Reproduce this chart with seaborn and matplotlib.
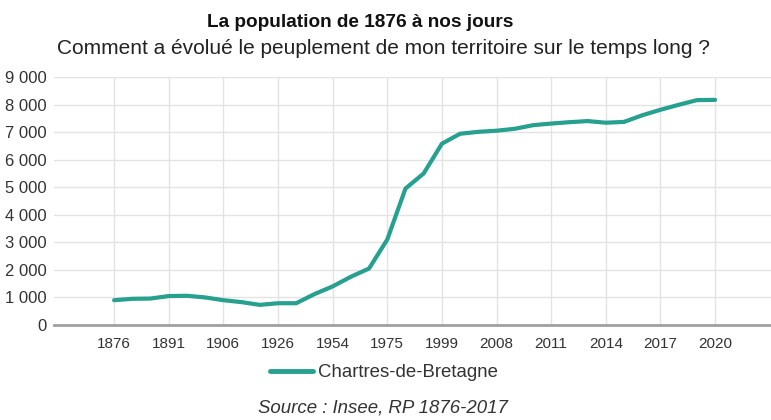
import matplotlib
matplotlib.use("Agg")
import matplotlib.pyplot as plt
import seaborn as sns
import pandas as pd

# Recensements (Insee) et population estimée
years = [1876, 1881, 1886, 1891, 1896, 1901, 1906, 1911, 1921, 1926, 1931, 1936,
         1954, 1962, 1968, 1975, 1982, 1990, 1999, 2006, 2007, 2008, 2009, 2010,
         2011, 2012, 2013, 2014, 2015, 2016, 2017, 2018, 2019, 2020]
population = [900, 950, 960, 1050, 1060, 1000, 900, 830, 730, 790, 790, 1120,
              1400, 1750, 2050, 3100, 4950, 5500, 6580, 6940, 7010, 7050, 7120, 7250,
              7310, 7360, 7400, 7340, 7370, 7610, 7810, 7990, 8160, 8170]
commune = "Chartres-de-Bretagne"
y_ticks = list(range(0, 9001, 1000))

df = pd.DataFrame({"year": years, "population": population})
df["pos"] = range(len(df))
df["commune"] = commune

sns.set_style("white")
plt.rcParams["font.family"] = ["Liberation Sans", "DejaVu Sans"]

fig = plt.figure(figsize=(7.71, 4.2), dpi=100)
ax = fig.add_axes([0.070, 0.2262, 0.930, 0.5905])

sns.lineplot(data=df, x="pos", y="population", hue="commune",
             palette=["#26a08f"], linewidth=3, ax=ax, legend=False, zorder=3)

ax.set_xlim(-3.3, 36.07)
ax.set_ylim(0, 9000)
label_pos = df["pos"][::3].tolist()
ax.set_xticks(label_pos)
ax.set_xticklabels([str(y) for y in df["year"][::3]], fontsize=11, color="#333333")
ax.set_yticks(y_ticks)
ax.set_yticklabels([f"{v:,}".replace(",", " ") for v in y_ticks], fontsize=12, color="#333333")
ax.tick_params(length=0, pad=5)
ax.tick_params(axis="x", pad=9)
ax.grid(True, color="#e3e3e3", linewidth=1)
ax.set_axisbelow(True)
for s in ["top", "right", "left"]:
    ax.spines[s].set_visible(False)
ax.spines["bottom"].set_color("#a0a0a0")
ax.spines["bottom"].set_linewidth(2)
ax.set_xlabel("")
ax.set_ylabel("")

fig.text(0.4676, 0.946, "La population de 1876 à nos jours", ha="center", va="center",
         fontsize=13.7, fontweight="bold", color="#111111")
fig.text(0.497, 0.884, "Comment a évolué le peuplement de mon territoire sur le temps long ?",
         ha="center", va="center", fontsize=15, color="#222222")

handle = plt.Line2D([], [], color="#26a08f", linewidth=3.5)
fig.legend([handle], [commune], loc="center", bbox_to_anchor=(0.498, 0.112),
           frameon=False, fontsize=13.4, handlelength=2.3, handletextpad=0.3,
           labelcolor="#333333")
fig.text(0.497, 0.028, "Source : Insee, RP 1876-2017", ha="center", va="center",
         fontsize=13.4, style="italic", color="#333333")

fig.savefig("out.png", dpi=100)
